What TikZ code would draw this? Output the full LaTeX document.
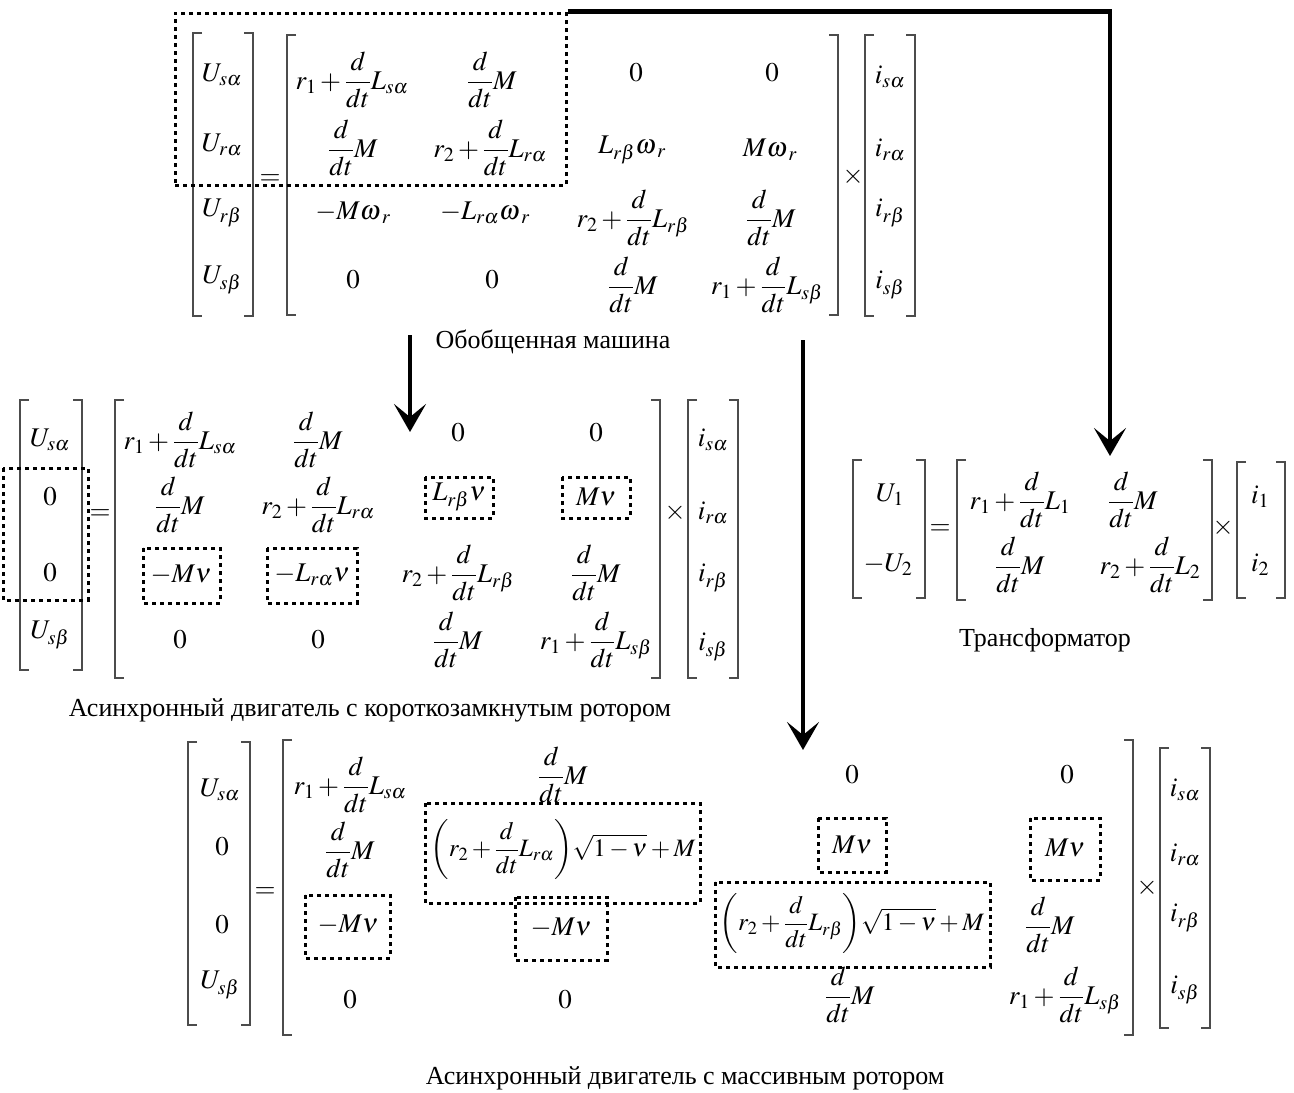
\documentclass[tikz,border=0pt]{standalone}
\usepackage{amsmath}
\usepackage{mathptmx}
\usepackage[no-math]{fontspec}
\setmainfont{Liberation Serif}
\usetikzlibrary{arrows.meta}
\newcommand{\ddt}{\dfrac{d}{dt}}
\newcommand{\omr}{{\omega}_{\mkern3mu r}}
\newcommand{\LB}[3]{\draw[brk] ({#1+9},#2) -- (#1,#2) -- (#1,#3) -- ({#1+9},#3);}
\newcommand{\RB}[3]{\draw[brk] ({#1-9},#2) -- (#1,#2) -- (#1,#3) -- ({#1-9},#3);}
\tikzset{
 ent/.style={inner sep=0pt, font=\fontsize{27}{32}\selectfont},
 wide/.style={inner sep=0pt, font=\fontsize{25}{30}\selectfont},
 lbl/.style={inner sep=0pt, font=\fontsize{26}{30}\selectfont},
 brk/.style={line width=1.4pt, draw=black!70},
 dbox/.style={draw=black, line width=3pt, dash pattern=on 4pt off 4pt},
 arr/.style={line width=4.5pt, -{Stealth[length=28pt,width=32pt,inset=13pt]}},
}
\begin{document}
\begin{tikzpicture}[x=1pt,y=-1pt]
\fill[white] (0,0) rectangle (1294,1093);
\useasboundingbox (0,0) rectangle (1294,1093);

% ---------------- Top: generalized machine ----------------
\LB{193}{33}{316} \RB{253}{33}{316}
\node[ent] (gU1) at (222,75) {$U_{s\alpha}$};
\node[ent] (gU2) at (222,145) {$U_{r\alpha}$};
\node[ent] (gU3) at (222,213) {$U_{r\beta}$};
\node[ent] (gU4) at (222,280) {$U_{s\beta}$};
\node[ent] (geq) at (270,180) {$=$};
\LB{287}{35}{315} \RB{838}{35}{315}
\node[ent] (g11) at (352,80) {$r_1+\ddt L_{s\alpha}$};
\node[ent] (g12) at (492,80) {$\ddt M$};
\node[ent] (g13) at (636,73) {$0$};
\node[ent] (g14) at (772,73) {$0$};
\node[ent] (g21) at (353,148) {$\ddt M$};
\node[ent] (g22) at (490,148) {$r_2+\ddt L_{r\alpha}$};
\node[ent] (g23) at (632,150) {$L_{r\beta}\omr$};
\node[ent] (g24) at (770,150) {$M\omr$};
\node[ent] (g31) at (353,213) {$-M\omr$};
\node[ent] (g32) at (485,213) {$-L_{r\alpha}\omr$};
\node[ent] (g33) at (633,218) {$r_2+\ddt L_{r\beta}$};
\node[ent] (g34) at (771,218) {$\ddt M$};
\node[ent] (g41) at (353,280) {$0$};
\node[ent] (g42) at (492,280) {$0$};
\node[ent] (g43) at (633,285) {$\ddt M$};
\node[ent] (g44) at (767,285) {$r_1+\ddt L_{s\beta}$};
\node[ent] (gx) at (853,177) {$\times$};
\LB{865}{35}{316} \RB{915}{35}{316}
\node[ent] (gi1) at (890,77) {$i_{s\alpha}$};
\node[ent] (gi2) at (890,150) {$i_{r\alpha}$};
\node[ent] (gi3) at (890,213) {$i_{r\beta}$};
\node[ent] (gi4) at (890,285) {$i_{s\beta}$};
\node[lbl] (glab) at (553,342) {Обобщенная машина};
\node[dbox, minimum width=391pt, minimum height=172pt, inner sep=0pt] (gbox) at (370.5,99) {};

% ---------------- Middle left: squirrel cage ----------------
\LB{20}{400}{670} \RB{82}{400}{670}
\node[ent] (mU1) at (50,440) {$U_{s\alpha}$};
\node[ent] (mU2) at (50,497) {$0$};
\node[ent] (mU3) at (50,573) {$0$};
\node[ent] (mU4) at (50,635) {$U_{s\beta}$};
\draw[dbox] (3,468) rectangle (88,600);
\node[ent] (meq) at (100,515) {$=$};
\LB{115}{400}{678} \RB{660}{400}{678}
\node[ent] (m11) at (180,440) {$r_1+\ddt L_{s\alpha}$};
\node[ent] (m12) at (318,440) {$\ddt M$};
\node[ent] (m13) at (458,433) {$0$};
\node[ent] (m14) at (596,433) {$0$};
\node[ent] (m21) at (180,505) {$\ddt M$};
\node[ent] (m22) at (318,505) {$r_2+\ddt L_{r\alpha}$};
\node[ent] (m23) at (459,497) {$L_{r\beta}\nu$};
\node[ent] (m24) at (596,497) {$M\nu$};
\node[ent] (m31) at (181,575) {$-M\nu$};
\node[ent] (m32) at (312,575) {$-L_{r\alpha}\nu$};
\node[ent] (m33) at (458,573) {$r_2+\ddt L_{r\beta}$};
\node[ent] (m34) at (596,573) {$\ddt M$};
\node[ent] (m41) at (180,640) {$0$};
\node[ent] (m42) at (318,640) {$0$};
\node[ent] (m43) at (458,640) {$\ddt M$};
\node[ent] (m44) at (596,640) {$r_1+\ddt L_{s\beta}$};
\draw[dbox] (425,477) rectangle (493,518);
\draw[dbox] (562,477) rectangle (630,518);
\draw[dbox] (143,548) rectangle (220,603);
\draw[dbox] (267,548) rectangle (357,603);
\node[ent] (mx) at (675,513) {$\times$};
\LB{688}{400}{678} \RB{738}{400}{678}
\node[ent] (mi1) at (713,440) {$i_{s\alpha}$};
\node[ent] (mi2) at (713,513) {$i_{r\alpha}$};
\node[ent] (mi3) at (713,578) {$i_{r\beta}$};
\node[ent] (mi4) at (713,647) {$i_{s\beta}$};
\node[lbl] (mlab) at (370,710) {Асинхронный двигатель с короткозамкнутым ротором};

% ---------------- Right: transformer ----------------
\LB{853}{460}{598} \RB{925}{460}{598}
\node[ent] (tU1) at (890,495) {$U_1$};
\node[ent] (tU2) at (888,565) {$-U_2$};
\node[ent] (teq) at (940,530) {$=$};
\LB{957}{460}{600} \RB{1212}{460}{600}
\node[ent] (t11) at (1020,500) {$r_1+\ddt L_1$};
\node[ent] (t12) at (1133,500) {$\ddt M$};
\node[ent] (t21) at (1020,565) {$\ddt M$};
\node[ent] (t22) at (1150,565) {$r_2+\ddt L_2$};
\node[ent] (tx) at (1223,528) {$\times$};
\LB{1237}{462}{598} \RB{1285}{462}{598}
\node[ent] (ti1) at (1260,497) {$i_1$};
\node[ent] (ti2) at (1260,565) {$i_2$};
\node[lbl] (tlab) at (1045,640) {Трансформатор};

% ---------------- Bottom: massive rotor ----------------
\LB{188}{742}{1025} \RB{250}{742}{1025}
\node[ent] (bU1) at (220,790) {$U_{s\alpha}$};
\node[ent] (bU2) at (222,847) {$0$};
\node[ent] (bU3) at (222,925) {$0$};
\node[ent] (bU4) at (220,985) {$U_{s\beta}$};
\node[ent] (beq) at (265,893) {$=$};
\LB{283}{740}{1035} \RB{1133}{740}{1035}
\node[ent] (b11) at (350,785) {$r_1+\ddt L_{s\alpha}$};
\node[ent] (b12) at (563,775) {$\ddt M$};
\node[ent] (b13) at (852,775) {$0$};
\node[ent] (b14) at (1067,775) {$0$};
\node[ent] (b21) at (350,850) {$\ddt M$};
\node[wide] (b22) at (563,850) {$\left(r_2+\ddt L_{r\alpha}\right)\!\sqrt{1-\nu}+M$};
\node[ent] (b23) at (852,845) {$M\nu$};
\node[ent] (b24) at (1065,848) {$M\nu$};
\node[ent] (b31) at (348,925) {$-M\nu$};
\node[ent] (b32) at (561,928) {$-M\nu$};
\node[wide] (b33) at (852,924) {$\left(r_2+\ddt L_{r\beta}\right)\!\sqrt{1-\nu}+M$};
\node[ent] (b34) at (1050,925) {$\ddt M$};
\node[ent] (b41) at (350,1000) {$0$};
\node[ent] (b42) at (565,1000) {$0$};
\node[ent] (b43) at (850,995) {$\ddt M$};
\node[ent] (b44) at (1065,995) {$r_1+\ddt L_{s\beta}$};
\draw[dbox] (425,803) rectangle (700,903);
\draw[dbox] (818,818) rectangle (886,872);
\draw[dbox] (1030,818) rectangle (1100,880);
\draw[dbox] (305,895) rectangle (390,958);
\draw[dbox] (515,897) rectangle (607,960);
\draw[dbox] (715,882) rectangle (990,967);
\node[ent] (bx) at (1147,888) {$\times$};
\LB{1160}{748}{1028} \RB{1210}{748}{1028}
\node[ent] (bi1) at (1185,790) {$i_{s\alpha}$};
\node[ent] (bi2) at (1185,855) {$i_{r\alpha}$};
\node[ent] (bi3) at (1185,918) {$i_{r\beta}$};
\node[ent] (bi4) at (1185,990) {$i_{s\beta}$};
\node[lbl] (blab) at (685,1078) {Асинхронный двигатель с массивным ротором};

% ---------------- Arrows ----------------
\coordinate (a1s) at (410,335);
\coordinate (a1e) at (410,432);
\coordinate (a2s) at (803,340);
\coordinate (a2e) at (803,750);
\coordinate (a3e) at (1110,456);
\draw[arr] (a1s) -- (a1e);
\draw[arr] (a2s) -- (a2e);
\draw[arr] (gbox.north east) -| (a3e);
\end{tikzpicture}
\end{document}
